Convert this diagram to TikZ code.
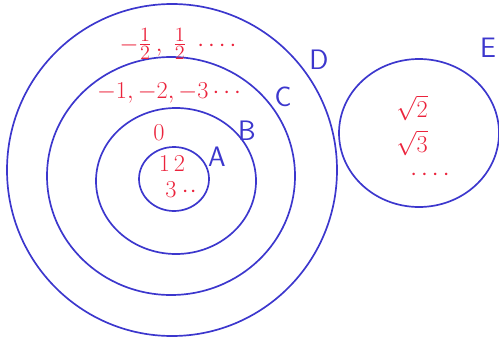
\documentclass[tikz,border=0pt]{standalone}
\usepackage{amsmath,amssymb}
\usepackage{xcolor}
\definecolor{InkBlue}{RGB}{60, 55, 205}
\definecolor{InkRed}{RGB}{235, 35, 60}
\usepackage{tikz}
\usetikzlibrary{positioning}

\begin{document}
\begin{tikzpicture}[x=0.025cm, y=-0.025cm,
            set/.style={draw=InkBlue, line width=1.2pt},
            setname/.style={text=InkBlue, font=\fontsize{20}{24}\selectfont\sffamily},
            elem/.style={text=InkRed, font=\fontsize{17}{20}\selectfont, inner sep=0pt}
        ]
        \useasboundingbox (0,0) rectangle (499,342);

        % The sets
        \draw[set] (172,170) ellipse (165 and 166);
        \draw[set] (171,176) ellipse (124 and 119);
        \draw[set] (176,181) ellipse (80 and 73);
        \draw[set] (174,179) ellipse (35 and 32);
        \draw[set] (419,133) ellipse (80 and 74);

        % Set names
        \node[setname] (nD) at (319,60) {D};
        \node[setname] (nC) at (283,97) {C};
        \node[setname] (nB) at (247,131) {B};
        \node[setname] (nA) at (217,157) {A};
        \node[setname] (nE) at (488,48) {E};

        % Elements
        \node[elem, font=\fontsize{19}{22}\selectfont] (frac) at (178,44) {$-\tfrac{1}{2}\,,\;\tfrac{1}{2}\;\cdots\cdot$};
        \node[elem] (neg) at (171,93) {$-1,-2,-3\cdots$};
        \node[elem] (zero) at (159,133) {$0$};
        \node[elem] (onetwo) at (172,164) {$1\,2$};
        \node[elem] (three) at (181,190) {$3\cdot\!\cdot$};
        \node[elem] (sqtwo) at (412,108) {$\sqrt{2}$};
        \node[elem] (sqthree) at (412,143) {$\sqrt{3}$};
        \node[elem] (dots) at (430,175) {$\cdots\cdot$};

        \end{tikzpicture}
\end{document}
